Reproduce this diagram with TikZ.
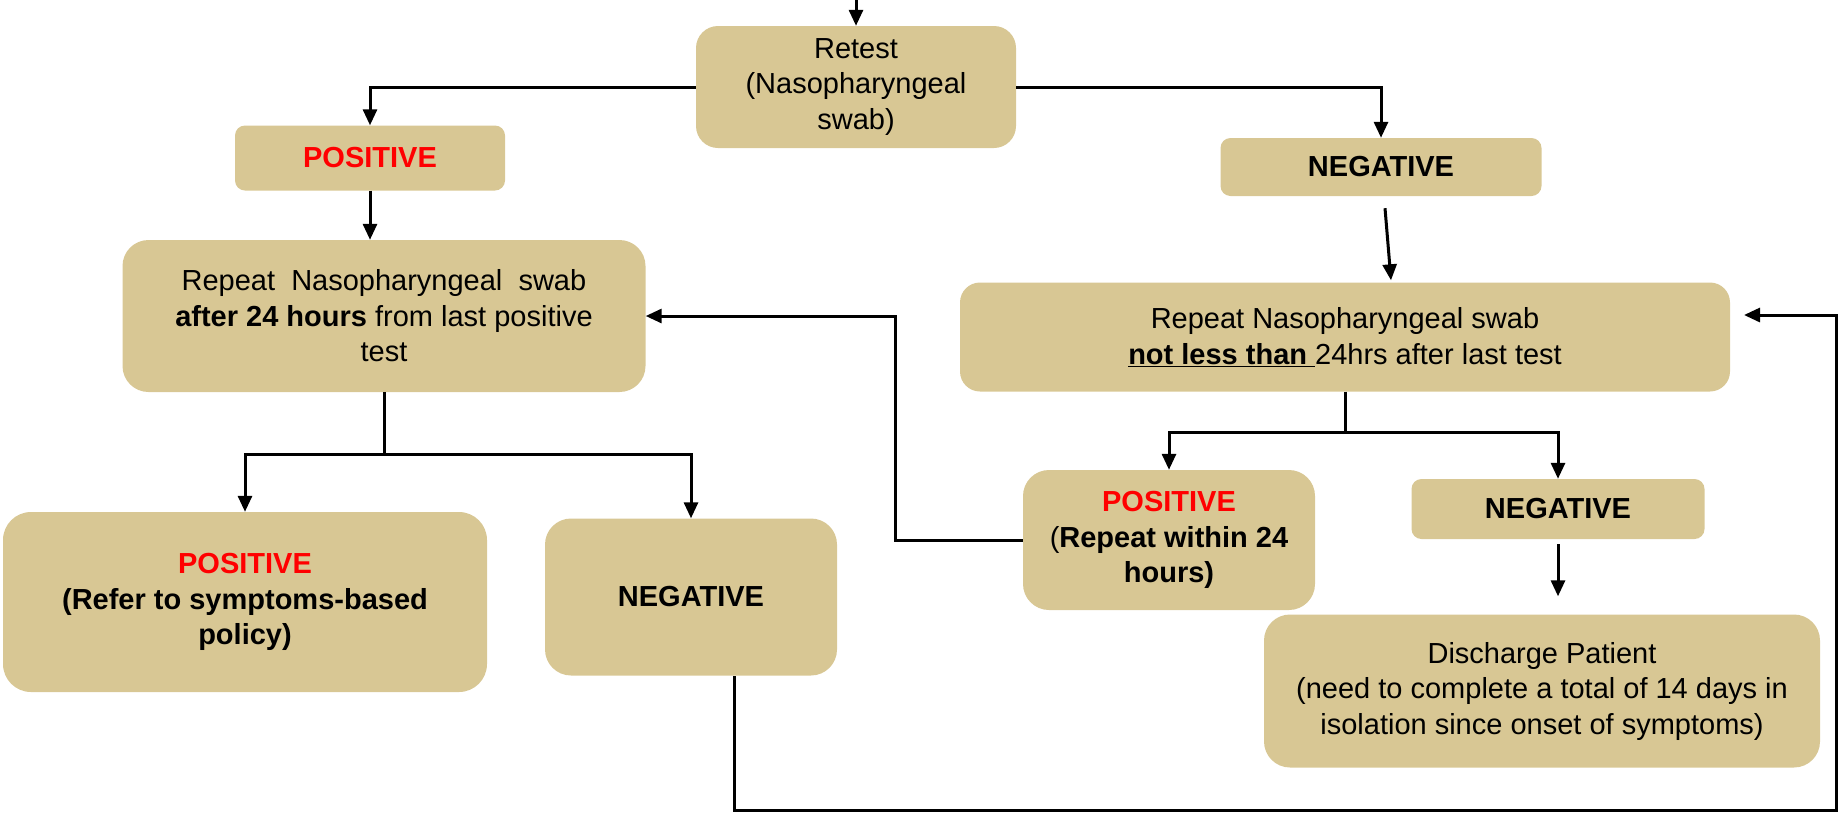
\documentclass[tikz,border=0pt]{standalone}
\usepackage{fontspec}
\setmainfont{Liberation Sans}
\usetikzlibrary{arrows.meta}
\definecolor{tan}{HTML}{D8C794}
\definecolor{posred}{HTML}{FF0000}
\tikzset{
  box/.style={rectangle, rounded corners=#1, fill=tan, draw=none, align=center,
    inner sep=0pt, font=\fontsize{29}{35.5}\selectfont},
  box/.default=22pt,
  conn/.style={line width=3pt, -{Triangle[length=16pt,width=14pt]}},
  plain/.style={line width=3pt},
}
\newcommand{\pos}{\textcolor{posred}{\textbf{POSITIVE}}}
\begin{document}
\begin{tikzpicture}[x=1pt,y=-1pt]
\useasboundingbox (0,0) rectangle (1844,815);
% boxes
\node[box=22pt, minimum width=320pt, minimum height=122pt] (retest) at (856,87) {Retest\\(Nasopharyngeal\\swab)};
\node[box=10pt, minimum width=270pt, minimum height=65pt] (pos1) at (370,158) {\pos};
\node[box=10pt, minimum width=321pt, minimum height=58pt] (neg1) at (1381,167) {\textbf{NEGATIVE}};
\node[box=26pt, minimum width=523pt, minimum height=152pt] (repL) at (384,316) {Repeat~ Nasopharyngeal~ swab\\\textbf{after 24 hours} from last positive\\test};
\node[box=20pt, minimum width=770pt, minimum height=109pt] (repR) at (1345,337) {Repeat Nasopharyngeal swab\\\textbf{\underline{not less than }}24hrs after last test};
\node[box=28pt, minimum width=484pt, minimum height=180pt] (bl) at (245,602) {\pos\\\textbf{(Refer to symptoms-based}\\\textbf{policy)}};
\node[box=26pt, minimum width=292pt, minimum height=157pt] (bm) at (691,597) {\textbf{NEGATIVE}};
\node[box=26pt, minimum width=292pt, minimum height=140pt] (posR) at (1169,540) {\pos\\(\textbf{Repeat within 24}\\\textbf{hours)}};
\node[box=10pt, minimum width=293pt, minimum height=60pt] (negR) at (1558,509) {\textbf{NEGATIVE}};
\node[box=26pt, minimum width=556pt, minimum height=153pt] (dis) at (1542,691) {Discharge Patient\\(need to complete a total of 14 days in\\isolation since onset of symptoms)};
% coordinates
\coordinate (top) at (856,0);
\coordinate (jL) at (384,454);
\coordinate (jR) at (1345,432);
\coordinate (loopL) at (895,316);
\coordinate (bmout) at (734,676);
\coordinate (bot) at (734,810);
\coordinate (loopR) at (1836,315);
\coordinate (rin) at (1744,315);
% connectors
\draw[conn] (top) -- (retest.north);
\draw[conn] (retest.west) -| (pos1.north);
\draw[conn] (retest.east) -| (neg1.north);
\draw[conn] (pos1.south) -- (pos1.south |- repL.north);
\draw[conn] ([xshift=4pt,yshift=-12pt]neg1.south) -- ([xshift=46pt,yshift=2pt]repR.north);
\draw[plain] (repL.south) -- (jL);
\draw[conn] (jL) -| (bl.north);
\draw[conn] (jL) -| (bm.north);
\draw[plain] (repR.south) -- (jR);
\draw[conn] (jR) -| (posR.north);
\draw[conn] (jR) -| (negR.north);
\draw[conn] ([yshift=-5pt]negR.south) -- ([yshift=18pt]negR.south |- dis.north);
\draw[conn] (posR.west) -| (loopL) -- (repL.east);
\draw[conn] (bmout) -- (bot) -| (loopR) -- (rin);
\end{tikzpicture}
\end{document}
